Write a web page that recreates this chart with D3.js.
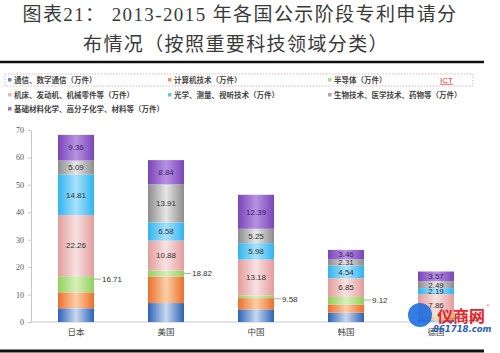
<!DOCTYPE html>
<html>
<head>
<meta charset="utf-8">
<script src="https://cdn.jsdelivr.net/npm/d3@7"></script>
<style>
  body { margin: 0; background: #fff; }
  svg { display: block; }
</style>
</head>
<body>
<svg id="chart" width="500" height="353"></svg>
<script>
// data
const countries = ["日本", "美国", "中国", "韩国", "德国"];
const series = [
  "通信、数字通信（万件）",
  "计算机技术（万件）",
  "半导体（万件）",
  "机床、发动机、机械零件等（万件）",
  "光学、测量、视听技术（万件）",
  "生物技术、医学技术、药物等（万件）",
  "基础材料化学、高分子化学、材料等（万件）"
];
const telecom   = [5.0, 6.9, 4.6, 3.4, 0.9];
const computer  = [5.8, 9.7, 4.1, 3.0, 0.8];
const semi      = [5.91, 2.22, 0.88, 2.72, 0.6];
const machine   = [22.26, 10.88, 13.18, 6.85, 7.86];
const optics    = [14.81, 6.58, 5.98, 4.54, 2.19];
const bio       = [5.09, 13.91, 5.25, 2.31, 2.49];
const materials = [9.36, 8.84, 12.39, 3.46, 3.57];
const ictTotal  = [16.71, 18.82, 9.58, 9.12, 2.30];
const yTicks = [0, 10, 20, 30, 40, 50, 60, 70];

const values = [telecom, computer, semi, machine, optics, bio, materials];
const edgeColors = ["#2c62b6", "#ec6f2a", "#93cf5c", "#e39c9c", "#2fb4ee", "#8c8c8c", "#7a45b8"];
const midColors  = ["#c9d9f0", "#fbcfa8", "#d6f0bc", "#f8e2e2", "#a9e2fb", "#e6e6e6", "#b792e2"];

const svg = d3.select("#chart");
const font = "'Noto Sans CJK SC', 'Noto Sans', sans-serif";
const titleFont = "'Liberation Serif', 'Noto Sans CJK SC', serif";

// gradients, dark at the bar edges and light in the middle
const defs = svg.append("defs");
series.forEach((s, i) => {
  const g = defs.append("linearGradient").attr("id", "g" + i)
    .attr("x1", "0%").attr("x2", "100%").attr("y1", "0%").attr("y2", "0%");
  g.append("stop").attr("offset", "0%").attr("stop-color", edgeColors[i]);
  g.append("stop").attr("offset", "50%").attr("stop-color", midColors[i]);
  g.append("stop").attr("offset", "100%").attr("stop-color", edgeColors[i]);
});

// title
const title = svg.append("g")
  .attr("font-family", titleFont)
  .attr("font-size", 19)
  .attr("fill", "#3a3a3a")
  .attr("text-anchor", "middle")
  .style("letter-spacing", "1.4px");
title.append("text").attr("x", 240).attr("y", 21).text("图表21： 2013-2015 年各国公示阶段专利申请分");
title.append("text").attr("x", 236).attr("y", 51).text("布情况（按照重要科技领域分类）");

svg.append("line").attr("x1", 0).attr("x2", 484).attr("y1", 62).attr("y2", 62)
  .attr("stroke", "#111").attr("stroke-width", 2.5);
svg.append("line").attr("x1", 0).attr("x2", 484).attr("y1", 351).attr("y2", 351)
  .attr("stroke", "#111").attr("stroke-width", 3);

// legend
svg.append("rect").attr("x", 5).attr("y", 74).attr("width", 468).attr("height", 12)
  .attr("fill", "none").attr("stroke", "#d9a0a8").attr("stroke-width", 0.8)
  .attr("stroke-dasharray", "1.5,1.5");

const legCols = [8, 168, 328];
const legRows = [80, 95, 109];
const legend = svg.append("g").attr("font-family", font).attr("font-size", 7.5).attr("fill", "#444");
series.forEach((s, i) => {
  const x = legCols[i % 3], y = legRows[Math.floor(i / 3)];
  legend.append("rect").attr("x", x).attr("y", y - 2).attr("width", 3.5).attr("height", 3.5)
    .attr("fill", edgeColors[i]).attr("opacity", 0.75);
  legend.append("text").attr("x", x + 6).attr("y", y).attr("dy", "0.35em")
    .style("font-weight", "bold").text(s);
});
legend.append("text").attr("x", 440).attr("y", 80).attr("dy", "0.35em")
  .attr("fill", "#d0403a").attr("font-family", "'Liberation Sans', sans-serif")
  .attr("font-size", 8).attr("text-decoration", "underline").text("ICT");

// scales
const x = d3.scaleBand().domain(countries).range([31, 481]).paddingInner(0.6).paddingOuter(0.3);
const y = d3.scaleLinear().domain([0, 70]).range([322, 130]);

// axes
const yAxis = svg.append("g").attr("transform", "translate(31,0)")
  .call(d3.axisLeft(y).tickValues(yTicks).tickSize(3).tickPadding(4));
yAxis.select(".domain").attr("stroke", "#c8c8c8");
yAxis.selectAll(".tick line").attr("stroke", "#c8c8c8");
yAxis.selectAll("text").attr("font-family", "'Liberation Serif', serif").attr("font-size", 8).attr("fill", "#555");

const xAxis = svg.append("g").attr("transform", "translate(0,322)")
  .call(d3.axisBottom(x).tickSize(0).tickPadding(7));
xAxis.select(".domain").attr("stroke", "#c8c8c8").attr("d", "M31,0H481");
xAxis.selectAll("text").attr("font-family", font).attr("font-size", 8.5).attr("fill", "#444");

// stacked bars
const rows = countries.map((c, j) => {
  const r = { country: c };
  series.forEach((s, i) => r[s] = values[i][j]);
  return r;
});
const stacked = d3.stack().keys(series)(rows);

const layers = svg.append("g").selectAll("g").data(stacked).join("g")
  .attr("fill", (d, i) => "url(#g" + i + ")");
layers.selectAll("rect").data(d => d).join("rect")
  .attr("x", d => x(d.data.country))
  .attr("width", x.bandwidth())
  .attr("y", d => y(d[1]))
  .attr("height", d => y(d[0]) - y(d[1]));

// labels inside the upper four segments
const labelLayers = stacked.slice(3);
svg.append("g").attr("font-family", "'Liberation Sans Narrow', 'Liberation Sans', sans-serif")
  .attr("font-size", 8).attr("text-anchor", "middle")
  .selectAll("g").data(labelLayers).join("g")
  .attr("fill", (d, i) => i === 3 ? "#3a1f66" : "#333")
  .selectAll("text").data(d => d).join("text")
  .attr("x", d => x(d.data.country) + x.bandwidth() / 2)
  .attr("y", d => (y(d[0]) + y(d[1])) / 2)
  .attr("dy", "0.35em")
  .text(d => (d[1] - d[0]).toFixed(2));

// ICT totals with leader lines
const ict = svg.append("g");
countries.forEach((c, j) => {
  const bx = x(c) + x.bandwidth();
  const by = y(ictTotal[j]) + 3;
  ict.append("line").attr("x1", bx).attr("x2", bx + 7).attr("y1", by).attr("y2", by)
    .attr("stroke", "#888").attr("stroke-width", 0.7);
  ict.append("text").attr("x", bx + 8).attr("y", by).attr("dy", "0.35em")
    .attr("font-family", "'Liberation Sans Narrow', 'Liberation Sans', sans-serif")
    .attr("font-size", 8).attr("fill", "#333").text(ictTotal[j].toFixed(2));
});

// watermark
const wm = svg.append("g");
wm.append("circle").attr("cx", 420).attr("cy", 315).attr("r", 12).attr("fill", "#1f6fe0").attr("opacity", 0.9);
wm.append("text").attr("x", 437).attr("y", 322).attr("font-family", font)
  .attr("font-size", 16).attr("font-weight", "bold").attr("fill", "#e8262a").text("仪商网");
wm.append("text").attr("x", 486).attr("y", 307).attr("font-size", 5).attr("fill", "#e8262a").text("®");
wm.append("text").attr("x", 433).attr("y", 332).attr("font-family", "'DejaVu Sans', sans-serif")
  .attr("font-size", 8.5).attr("font-weight", "bold").attr("font-style", "italic")
  .attr("fill", "#2a5fb8").text("861718.com");
</script>
</body>
</html>
